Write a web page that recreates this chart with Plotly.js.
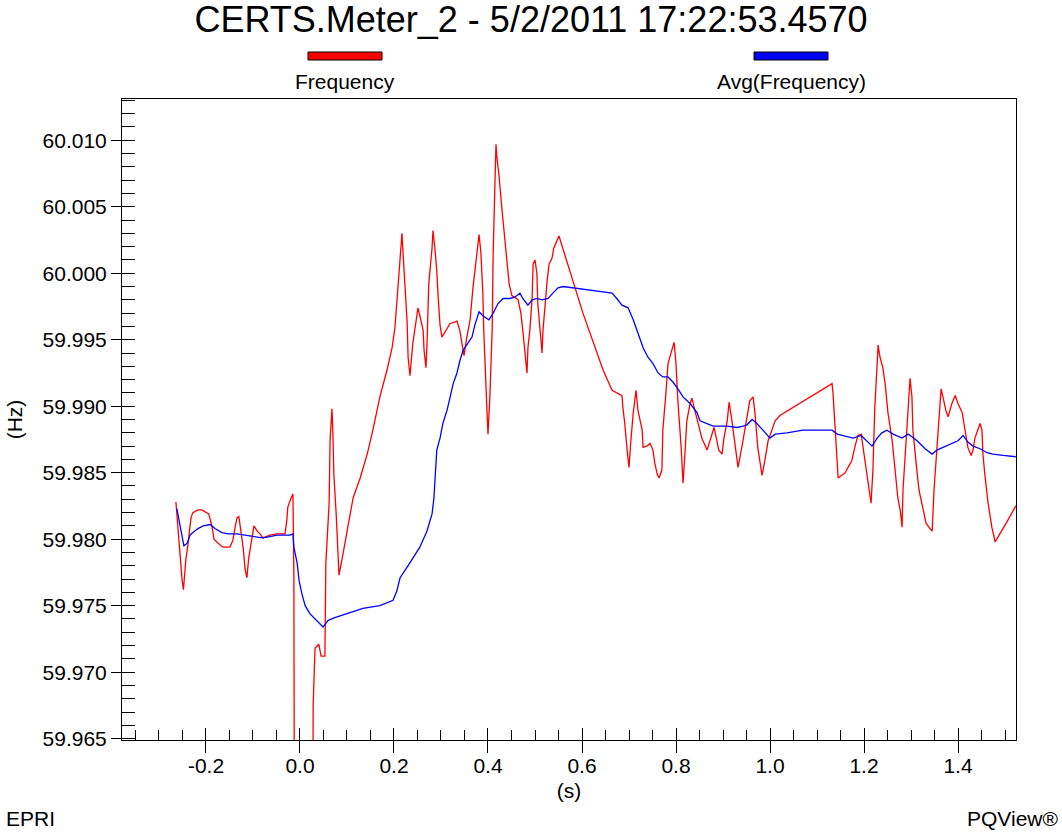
<!DOCTYPE html>
<html>
<head>
<meta charset="utf-8">
<script src="https://cdn.plot.ly/plotly-3.0.1.min.js"></script>
<style>
  html, body { margin: 0; padding: 0; background: #ffffff; }
  #chart { width: 1062px; height: 832px; }
</style>
</head>
<body>
<div id="chart"></div>
<script>
// Frequency samples (time in seconds, frequency in Hz)
const freqT = [
  -0.264, -0.262, -0.255, -0.251, -0.248, -0.243, -0.238, -0.232, -0.228, -0.217,
  -0.209, -0.198, -0.194, -0.187, -0.183, -0.174, -0.164, -0.149, -0.143, -0.138,
  -0.134, -0.130, -0.128, -0.121, -0.117, -0.113, -0.109, -0.102, -0.098, -0.091,
  -0.085, -0.079, -0.064, -0.049, -0.038, -0.032, -0.028, -0.026, -0.019, -0.015,
  -0.013, -0.011, 0.026, 0.028, 0.032, 0.040, 0.045, 0.053, 0.055, 0.062,
  0.064, 0.068, 0.070, 0.072, 0.077, 0.081, 0.083, 0.089, 0.100, 0.113,
  0.128, 0.143, 0.155, 0.170, 0.185, 0.196, 0.202, 0.206, 0.211, 0.215,
  0.217, 0.219, 0.223, 0.228, 0.230, 0.234, 0.240, 0.245, 0.249, 0.251,
  0.255, 0.262, 0.264, 0.268, 0.270, 0.274, 0.281, 0.283, 0.287, 0.291,
  0.294, 0.298, 0.302, 0.319, 0.334, 0.340, 0.347, 0.349, 0.355, 0.362,
  0.368, 0.374, 0.379, 0.381, 0.385, 0.389, 0.391, 0.394, 0.398, 0.400,
  0.404, 0.409, 0.411, 0.415, 0.417, 0.419, 0.423, 0.430, 0.434, 0.440,
  0.445, 0.451, 0.457, 0.464, 0.470, 0.474, 0.479, 0.483, 0.485, 0.489,
  0.494, 0.496, 0.500, 0.504, 0.506, 0.511, 0.515, 0.517, 0.521, 0.526,
  0.530, 0.536, 0.540, 0.547, 0.551, 0.602, 0.645, 0.664, 0.674, 0.685,
  0.687, 0.691, 0.696, 0.700, 0.704, 0.709, 0.715, 0.719, 0.728, 0.730,
  0.738, 0.745, 0.751, 0.755, 0.760, 0.764, 0.770, 0.772, 0.779, 0.783,
  0.791, 0.796, 0.800, 0.804, 0.811, 0.815, 0.819, 0.823, 0.830, 0.834,
  0.840, 0.847, 0.855, 0.866, 0.872, 0.879, 0.881, 0.887, 0.891, 0.898,
  0.902, 0.909, 0.913, 0.919, 0.926, 0.932, 0.940, 0.951, 0.957, 0.964,
  0.968, 0.974, 0.983, 0.989, 0.996, 1.004, 1.011, 1.021, 1.132, 1.134,
  1.138, 1.143, 1.145, 1.153, 1.160, 1.166, 1.174, 1.181, 1.187, 1.194,
  1.198, 1.206, 1.211, 1.215, 1.219, 1.223, 1.228, 1.230, 1.234, 1.240,
  1.245, 1.251, 1.260, 1.266, 1.272, 1.277, 1.281, 1.283, 1.287, 1.294,
  1.298, 1.302, 1.304, 1.311, 1.317, 1.326, 1.332, 1.338, 1.345, 1.349,
  1.355, 1.360, 1.362, 1.364, 1.368, 1.374, 1.379, 1.387, 1.394, 1.400,
  1.409, 1.415, 1.421, 1.428, 1.432, 1.436, 1.443, 1.447, 1.451, 1.453,
  1.457, 1.464, 1.472, 1.477, 1.479, 1.504, 1.523
];
const freqHz = [
  59.9828, 59.9819, 59.9786, 59.9770, 59.9762, 59.9784, 59.9797, 59.9816, 59.9820, 59.9822,
  59.9822, 59.9820, 59.9819, 59.9809, 59.9800, 59.9797, 59.9794, 59.9794, 59.9799, 59.9809,
  59.9816, 59.9817, 59.9812, 59.9794, 59.9778, 59.9771, 59.9786, 59.9801, 59.9810, 59.9806,
  59.9804, 59.9801, 59.9803, 59.9804, 59.9804, 59.9804, 59.9814, 59.9824, 59.9831, 59.9834,
  59.9771, 59.9400, 59.9400, 59.9675, 59.9718, 59.9721, 59.9712, 59.9712, 59.9782, 59.9827,
  59.9874, 59.9898, 59.9880, 59.9849, 59.9819, 59.9786, 59.9773, 59.9784, 59.9806, 59.9831,
  59.9846, 59.9864, 59.9882, 59.9907, 59.9927, 59.9944, 59.9959, 59.9978, 60.0000, 60.0016,
  60.0030, 60.0017, 59.9989, 59.9963, 59.9937, 59.9923, 59.9947, 59.9959, 59.9970, 59.9974,
  59.9968, 59.9957, 59.9942, 59.9929, 59.9944, 59.9992, 60.0019, 60.0032, 60.0019, 60.0002,
  59.9982, 59.9961, 59.9952, 59.9962, 59.9964, 59.9957, 59.9942, 59.9938, 59.9952, 59.9965,
  59.9989, 60.0007, 60.0022, 60.0029, 60.0015, 59.9985, 59.9957, 59.9925, 59.9895, 59.9879,
  59.9907, 59.9959, 60.0015, 60.0070, 60.0097, 60.0087, 60.0075, 60.0047, 60.0032, 60.0007,
  59.9992, 59.9983, 59.9982, 59.9980, 59.9970, 59.9957, 59.9937, 59.9925, 59.9944, 59.9957,
  59.9982, 60.0007, 60.0010, 60.0000, 59.9977, 59.9957, 59.9940, 59.9957, 59.9977, 59.9995,
  60.0007, 60.0011, 60.0019, 60.0025, 60.0028, 59.9970, 59.9927, 59.9912, 59.9910, 59.9908,
  59.9899, 59.9887, 59.9867, 59.9854, 59.9874, 59.9895, 59.9912, 59.9897, 59.9882, 59.9869,
  59.9870, 59.9872, 59.9867, 59.9857, 59.9849, 59.9846, 59.9852, 59.9882, 59.9912, 59.9932,
  59.9942, 59.9948, 59.9932, 59.9904, 59.9869, 59.9842, 59.9864, 59.9889, 59.9902, 59.9906,
  59.9897, 59.9887, 59.9876, 59.9867, 59.9874, 59.9882, 59.9884, 59.9874, 59.9867, 59.9864,
  59.9876, 59.9889, 59.9903, 59.9889, 59.9869, 59.9854, 59.9869, 59.9892, 59.9904, 59.9907,
  59.9895, 59.9869, 59.9848, 59.9859, 59.9874, 59.9882, 59.9889, 59.9893, 59.9917, 59.9910,
  59.9889, 59.9864, 59.9846, 59.9848, 59.9850, 59.9854, 59.9859, 59.9870, 59.9878, 59.9879,
  59.9869, 59.9852, 59.9837, 59.9827, 59.9852, 59.9899, 59.9932, 59.9946, 59.9937, 59.9929,
  59.9917, 59.9895, 59.9874, 59.9852, 59.9831, 59.9822, 59.9809, 59.9837, 59.9861, 59.9895,
  59.9921, 59.9907, 59.9882, 59.9857, 59.9837, 59.9822, 59.9812, 59.9809, 59.9806, 59.9837,
  59.9869, 59.9895, 59.9910, 59.9913, 59.9907, 59.9897, 59.9892, 59.9902, 59.9908, 59.9902,
  59.9895, 59.9882, 59.9869, 59.9863, 59.9867, 59.9876, 59.9884, 59.9887, 59.9882, 59.9864,
  59.9849, 59.9827, 59.9809, 59.9801, 59.9798, 59.9813, 59.9825
];

// Running average of the frequency
const avgT = [
  -0.262, -0.260, -0.255, -0.251, -0.247, -0.240, -0.234, -0.228, -0.217, -0.206,
  -0.191, -0.181, -0.166, -0.153, -0.134, -0.117, -0.100, -0.079, -0.064, -0.049,
  -0.036, -0.021, -0.015, -0.013, -0.006, -0.002, 0.004, 0.011, 0.021, 0.032,
  0.040, 0.049, 0.060, 0.074, 0.100, 0.134, 0.170, 0.198, 0.206, 0.213,
  0.228, 0.240, 0.255, 0.270, 0.281, 0.285, 0.287, 0.291, 0.298, 0.304,
  0.313, 0.319, 0.326, 0.334, 0.340, 0.347, 0.357, 0.366, 0.372, 0.381,
  0.389, 0.402, 0.411, 0.421, 0.432, 0.447, 0.457, 0.468, 0.474, 0.485,
  0.494, 0.504, 0.515, 0.528, 0.538, 0.549, 0.560, 0.602, 0.645, 0.664,
  0.674, 0.685, 0.698, 0.709, 0.719, 0.730, 0.740, 0.751, 0.762, 0.772,
  0.783, 0.794, 0.804, 0.815, 0.830, 0.845, 0.851, 0.866, 0.879, 0.909,
  0.930, 0.943, 0.951, 0.962, 0.972, 0.985, 1.000, 1.011, 1.036, 1.070,
  1.100, 1.132, 1.143, 1.155, 1.177, 1.194, 1.206, 1.217, 1.228, 1.238,
  1.249, 1.262, 1.281, 1.294, 1.302, 1.313, 1.330, 1.345, 1.355, 1.368,
  1.387, 1.400, 1.411, 1.421, 1.432, 1.447, 1.462, 1.474, 1.496, 1.523
];
const avgHz = [
  59.9823, 59.9819, 59.9812, 59.9804, 59.9795, 59.9797, 59.9803, 59.9805, 59.9808, 59.9810,
  59.9811, 59.9808, 59.9805, 59.9804, 59.9804, 59.9803, 59.9802, 59.9801, 59.9802, 59.9803,
  59.9803, 59.9803, 59.9804, 59.9794, 59.9782, 59.9769, 59.9759, 59.9750, 59.9744, 59.9740,
  59.9737, 59.9734, 59.9739, 59.9741, 59.9744, 59.9748, 59.9750, 59.9754, 59.9761, 59.9771,
  59.9779, 59.9786, 59.9794, 59.9806, 59.9819, 59.9831, 59.9846, 59.9867, 59.9876, 59.9887,
  59.9897, 59.9907, 59.9917, 59.9925, 59.9934, 59.9942, 59.9947, 59.9952, 59.9961, 59.9971,
  59.9968, 59.9965, 59.9970, 59.9977, 59.9981, 59.9981, 59.9982, 59.9985, 59.9981, 59.9976,
  59.9980, 59.9981, 59.9980, 59.9981, 59.9985, 59.9989, 59.9990, 59.9988, 59.9986, 59.9985,
  59.9981, 59.9976, 59.9974, 59.9965, 59.9955, 59.9944, 59.9937, 59.9932, 59.9925, 59.9922,
  59.9922, 59.9918, 59.9913, 59.9907, 59.9902, 59.9895, 59.9889, 59.9887, 59.9885, 59.9885,
  59.9884, 59.9885, 59.9886, 59.9890, 59.9887, 59.9882, 59.9876, 59.9879, 59.9880, 59.9882,
  59.9882, 59.9882, 59.9879, 59.9878, 59.9876, 59.9878, 59.9874, 59.9870, 59.9876, 59.9880,
  59.9882, 59.9879, 59.9876, 59.9879, 59.9877, 59.9874, 59.9868, 59.9864, 59.9867, 59.9869,
  59.9872, 59.9874, 59.9878, 59.9873, 59.9870, 59.9868, 59.9865, 59.9864, 59.9863, 59.9862
];

// Axis ticks
const xTickVals = [-0.2, 0.0, 0.2, 0.4, 0.6, 0.8, 1.0, 1.2, 1.4];
const xTickText = ['-0.2', '0.0', '0.2', '0.4', '0.6', '0.8', '1.0', '1.2', '1.4'];
const yTickVals = [59.965, 59.970, 59.975, 59.980, 59.985, 59.990, 59.995, 60.000, 60.005, 60.010];
const yTickText = ['59.965', '59.970', '59.975', '59.980', '59.985', '59.990', '59.995', '60.000', '60.005', '60.010'];

const seriesNames = ['Frequency', 'Avg(Frequency)'];
const seriesColors = ['#ff0000', '#0000ff'];

const FONT = 'Liberation Sans, Arial, sans-serif';
const xRange = [-0.3787, 1.5234];
const yRange = [59.9649, 60.0131];

const traces = [
  {
    x: freqT, y: freqHz, type: 'scatter', mode: 'lines', name: seriesNames[0],
    line: { color: seriesColors[0], width: 1.3 }, xaxis: 'x', yaxis: 'y'
  },
  {
    x: avgT, y: avgHz, type: 'scatter', mode: 'lines', name: seriesNames[1],
    line: { color: seriesColors[1], width: 1.3 }, xaxis: 'x2', yaxis: 'y2'
  }
];

const W = 1062, H = 832;
const M = { l: 122, r: 46, t: 99, b: 92 };
const PW = W - M.l - M.r, PH = H - M.t - M.b;
const px = v => (v - M.l) / PW;          // page x -> paper x
const py = v => (H - M.b - v) / PH;      // page y -> paper y

// Legend keys: coloured bar with the series name centred underneath
const keyCenters = [345, 791];
const shapes = [], annotations = [];
seriesNames.forEach((name, i) => {
  const cx = keyCenters[i];
  shapes.push({
    type: 'rect', xref: 'paper', yref: 'paper',
    x0: px(cx - 37), x1: px(cx + 37), y0: py(60), y1: py(52),
    fillcolor: seriesColors[i], line: { color: '#000000', width: 1 }
  });
  annotations.push({
    xref: 'paper', yref: 'paper', x: px(cx), y: py(82),
    xanchor: 'center', yanchor: 'middle', showarrow: false, text: name,
    font: { family: FONT, size: 21, color: '#000000' }
  });
});
annotations.push({
  xref: 'paper', yref: 'paper', x: px(4), y: py(818), xanchor: 'left', yanchor: 'middle',
  showarrow: false, text: 'EPRI', font: { family: FONT, size: 21, color: '#000000' }
});
annotations.push({
  xref: 'paper', yref: 'paper', x: px(1060), y: py(818), xanchor: 'right', yanchor: 'middle',
  showarrow: false, text: 'PQView®', font: { family: FONT, size: 21, color: '#000000' }
});

const tickFont = { family: FONT, size: 21, color: '#000000' };

const layout = {
  width: W, height: H,
  margin: M,
  paper_bgcolor: '#ffffff', plot_bgcolor: '#ffffff',
  showlegend: false,
  title: {
    text: 'CERTS.Meter_2 - 5/2/2011 17:22:53.4570',
    font: { family: FONT, size: 36, color: '#000000' },
    x: 0.5, xref: 'container', xanchor: 'center',
    y: 1 - 19 / H, yref: 'container', yanchor: 'middle'
  },
  xaxis: {
    range: xRange, showgrid: false, zeroline: false,
    showline: true, linecolor: '#000000', linewidth: 1, mirror: true,
    tickmode: 'array', tickvals: xTickVals, ticktext: xTickText,
    ticks: 'outside', ticklen: 12, tickwidth: 1, tickcolor: '#000000',
    tickfont: tickFont, ticklabelstandoff: -5,
    minor: { tickmode: 'linear', tick0: 0, dtick: 0.05, ticks: 'inside', ticklen: 10, tickwidth: 1, tickcolor: '#000000', showgrid: false },
    title: { text: '(s)', font: tickFont, standoff: 7 },
    automargin: false
  },
  yaxis: {
    range: yRange, showgrid: false, zeroline: false,
    showline: true, linecolor: '#000000', linewidth: 1, mirror: true,
    tickmode: 'array', tickvals: yTickVals, ticktext: yTickText,
    ticks: 'outside', ticklen: 10, tickwidth: 1, tickcolor: '#000000',
    tickfont: tickFont,
    minor: { tickmode: 'linear', tick0: 59.965, dtick: 0.001, ticks: 'inside', ticklen: 13, tickwidth: 1, tickcolor: '#000000', showgrid: false },
    title: { text: '(Hz)', font: tickFont, standoff: 14 },
    automargin: false
  },
  // Overlay axes: inner halves of the major ticks so they cross the frame
  xaxis2: {
    overlaying: 'x', anchor: 'y2', side: 'bottom', range: xRange,
    showgrid: false, zeroline: false, showline: false,
    tickmode: 'array', tickvals: xTickVals, showticklabels: false,
    ticks: 'inside', ticklen: 12, tickwidth: 1, tickcolor: '#000000'
  },
  yaxis2: {
    overlaying: 'y', anchor: 'x2', side: 'left', range: yRange,
    showgrid: false, zeroline: false, showline: false,
    tickmode: 'array', tickvals: yTickVals, showticklabels: false,
    ticks: 'inside', ticklen: 13, tickwidth: 1, tickcolor: '#000000'
  },
  shapes: shapes,
  annotations: annotations
};

Plotly.newPlot('chart', traces, layout, { displayModeBar: false, staticPlot: true });
</script>
</body>
</html>
